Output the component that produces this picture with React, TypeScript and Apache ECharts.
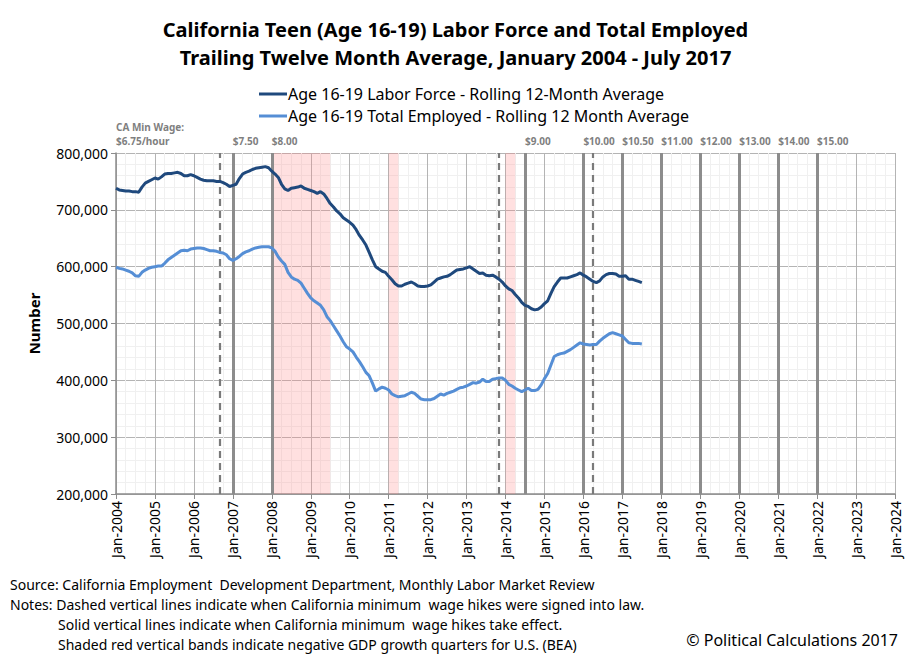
import React, { useEffect, useRef } from "react";
import * as echarts from "echarts";

// Time axis: months since Jan 2004 (index 0 = Jan 2004 ... 162 = Jul 2017)
const START_YEAR = 2004;
const X_MAX_MONTHS = 240; // Jan 2024
const Y_TICKS = [200000, 300000, 400000, 500000, 600000, 700000, 800000];

// Age 16-19 Labor Force, rolling 12-month average (thousands), Jan 2004 - Jul 2017
const laborForceK = [
  738, 735, 734, 733, 733, 732, 732, 731, 740, 747, 750, 753,
  756, 754, 758, 763, 764, 764, 765, 766, 764, 760, 760, 762,
  760, 757, 754, 752, 751, 751, 751, 750, 750, 748, 745, 741,
  743, 745, 755, 763, 766, 768, 771, 773, 774, 775, 776, 774,
  768, 763, 757, 745, 737, 734, 738, 739, 740, 742, 738, 736,
  734, 732, 729, 732, 728, 720, 711, 705, 698, 693, 686, 682,
  678, 673, 665, 655, 647, 638, 625, 612, 600, 596, 592, 590,
  583, 577, 570, 566, 566, 569, 571, 573, 570, 566, 565, 565,
  566, 568, 573, 578, 580, 582, 583, 586, 590, 594, 595, 596,
  598, 600, 596, 592, 588, 589, 585, 584, 585, 582, 578, 573,
  566, 561, 558, 551, 545, 537, 532, 530, 526, 524, 525, 529,
  535, 540, 553, 565, 573, 580, 580, 580, 582, 584, 586, 589,
  585, 582, 578, 574, 572, 575, 582, 586, 588, 588, 587, 583,
  583, 584, 578, 578, 576, 574, 572,
];

// Age 16-19 Total Employed, rolling 12-month average (thousands)
const totalEmployedK = [
  599, 597, 596, 594, 592, 589, 584, 583, 590, 594, 597, 599,
  600, 601, 601, 606, 612, 616, 620, 624, 628, 629, 628, 631,
  632, 633, 633, 632, 630, 628, 628, 627, 625, 624, 621, 614,
  611, 614, 618, 623, 626, 628, 631, 633, 634, 635, 635, 635,
  633, 627, 617, 610, 604, 590, 582, 578, 576, 571, 562, 553,
  545, 540, 536, 532, 524, 512, 505, 496, 487, 478, 468, 459,
  455, 450, 441, 433, 424, 414, 408, 395, 381, 385, 388, 386,
  383, 376, 373, 371, 372, 373, 376, 379, 377, 372, 367, 366,
  366, 366, 368, 372, 376, 374, 377, 379, 381, 384, 387, 388,
  390, 393, 396, 395, 397, 402, 398, 398, 402, 403, 404, 404,
  400, 393, 390, 386, 383, 380, 383, 386, 382, 382, 384, 392,
  403, 412, 427, 442, 445, 447, 448, 451, 454, 458, 462, 466,
  464, 463, 462, 463, 463, 469, 474, 478, 482, 484, 482, 480,
  478, 472, 466, 465, 465, 465, 464,
];

// Minimum wage events (month index) and labels
const signedIntoLaw = [32, 118, 147]; // dashed lines
const takesEffect = [36, 48, 126, 144, 156, 168, 180, 192, 204, 216]; // solid lines
const wageLabels = ["$7.50", "$8.00", "$9.00", "$10.00", "$10.50", "$11.00", "$12.00", "$13.00", "$14.00", "$15.00"];
const firstWageLabel = "CA Min Wage:\n$6.75/hour";

// Negative GDP growth quarters (month index ranges)
const recessionBands = [
  [48, 66],
  [84, 87],
  [120, 123],
];

const LF_NAME = "Age 16-19 Labor Force - Rolling 12-Month Average";
const TE_NAME = "Age 16-19 Total Employed - Rolling 12 Month Average";

const FONT = "'Noto Sans', 'Open Sans', sans-serif";

export default function App() {
  const ref = useRef<HTMLDivElement>(null);

  useEffect(() => {
    document.body.style.margin = "0";
    if (!ref.current) return;
    const chart = echarts.init(ref.current, null, { renderer: "svg" });

    const lfData = laborForceK.map((v, i) => [i, v * 1000]);
    const teData = totalEmployedK.map((v, i) => [i, v * 1000]);

    const wageLabelStyle = {
      show: true,
      position: "end",
      align: "left",
      verticalAlign: "bottom",
      distance: 5,
      color: "#7F7F7F",
      fontFamily: FONT,
      fontWeight: "bold",
      fontSize: 10,
      lineHeight: 14,
    };

    const markLineData: any[] = [];
    markLineData.push({
      xAxis: 0,
      lineStyle: { color: "rgba(0,0,0,0)", width: 0 },
      label: { ...wageLabelStyle, formatter: firstWageLabel },
    });
    signedIntoLaw.forEach((m) => {
      markLineData.push({
        xAxis: m,
        lineStyle: { color: "#7A7A7A", width: 2.2, type: [7, 5] },
        label: { show: false },
      });
    });
    takesEffect.forEach((m, i) => {
      markLineData.push({
        xAxis: m,
        lineStyle: { color: "#8C8C8C", width: 3, type: "solid" },
        label: { ...wageLabelStyle, formatter: wageLabels[i] },
      });
    });

    const option: any = {
      animation: false,
      backgroundColor: "#ffffff",
      textStyle: { fontFamily: FONT },
      title: {
        text: "California Teen (Age 16-19) Labor Force and Total Employed\nTrailing Twelve Month Average, January 2004 - July 2017",
        left: "center",
        top: 10,
        textStyle: {
          fontFamily: FONT,
          fontSize: 20,
          fontWeight: "bold",
          color: "#000",
          lineHeight: 28,
        },
      },
      legend: {
        data: [LF_NAME, TE_NAME],
        orient: "vertical",
        left: 254,
        top: 81,
        itemGap: 6,
        itemWidth: 28,
        itemHeight: 3,
        icon: "rect",
        textStyle: { fontFamily: FONT, fontSize: 16, color: "#000", padding: [0, 0, 0, -4] },
      },
      grid: { left: 116, right: 16, top: 153, bottom: 167, containLabel: false },
      xAxis: {
        type: "value",
        min: 0,
        max: X_MAX_MONTHS,
        interval: 12,
        axisLine: { show: true, lineStyle: { color: "#8C8C8C", width: 1.5 } },
        axisTick: { show: true, length: 5, lineStyle: { color: "#8C8C8C" } },
        axisLabel: {
          rotate: 90,
          fontFamily: FONT,
          fontSize: 14,
          color: "#000",
          margin: 7,
          formatter: (v: number) => "Jan-" + (START_YEAR + Math.round(v / 12)),
        },
        splitLine: { show: true, lineStyle: { color: "#B4B4B4", width: 1 } },
        minorTick: { show: false, splitNumber: 4 },
        minorSplitLine: { show: true, lineStyle: { color: "#F0F0F0", width: 1 } },
      },
      yAxis: {
        type: "value",
        min: Y_TICKS[0],
        max: Y_TICKS[Y_TICKS.length - 1],
        interval: Y_TICKS[1] - Y_TICKS[0],
        name: "Number",
        nameLocation: "middle",
        nameGap: 75,
        nameTextStyle: { fontFamily: FONT, fontSize: 15, fontWeight: "bold", color: "#000" },
        axisLine: { show: true, lineStyle: { color: "#8C8C8C", width: 1.5 } },
        axisTick: { show: true, length: 5, lineStyle: { color: "#8C8C8C" } },
        axisLabel: {
          fontFamily: FONT,
          fontSize: 14,
          color: "#000",
          margin: 8,
          formatter: (v: number) => v.toLocaleString("en-US"),
        },
        splitLine: { show: true, lineStyle: { color: "#B4B4B4", width: 1 } },
        minorTick: { show: false, splitNumber: 5 },
        minorSplitLine: { show: true, lineStyle: { color: "#F0F0F0", width: 1 } },
      },
      series: [
        {
          name: "markers",
          type: "line",
          data: [],
          z: 1,
          silent: true,
          markArea: {
            silent: true,
            itemStyle: { color: "rgba(255, 130, 130, 0.25)" },
            data: recessionBands.map((b) => [{ xAxis: b[0] }, { xAxis: b[1] }]),
          },
          markLine: {
            silent: true,
            symbol: ["none", "none"],
            data: markLineData,
          },
        },
        {
          name: LF_NAME,
          type: "line",
          data: lfData,
          showSymbol: false,
          symbol: "none",
          z: 5,
          lineStyle: { color: "#1F497D", width: 3 },
          itemStyle: { color: "#1F497D" },
        },
        {
          name: TE_NAME,
          type: "line",
          data: teData,
          showSymbol: false,
          symbol: "none",
          z: 5,
          lineStyle: { color: "#558ED5", width: 3 },
          itemStyle: { color: "#558ED5" },
        },
      ],
      graphic: [
        {
          type: "text",
          left: 10,
          top: 577,
          style: {
            text: "Source: California Employment  Development Department, Monthly Labor Market Review",
            font: `14px ${FONT}`,
            fill: "#000",
          },
        },
        {
          type: "text",
          left: 10,
          top: 597,
          style: {
            text: "Notes: Dashed vertical lines indicate when California minimum  wage hikes were signed into law.",
            font: `14px ${FONT}`,
            fill: "#000",
          },
        },
        {
          type: "text",
          left: 58,
          top: 617,
          style: {
            text: "Solid vertical lines indicate when California minimum  wage hikes take effect.",
            font: `14px ${FONT}`,
            fill: "#000",
          },
        },
        {
          type: "text",
          left: 58,
          top: 637,
          style: {
            text: "Shaded red vertical bands indicate negative GDP growth quarters for U.S. (BEA)",
            font: `14px ${FONT}`,
            fill: "#000",
          },
        },
        {
          type: "text",
          right: 13,
          top: 632,
          style: {
            text: "© Political Calculations 2017",
            font: `16px ${FONT}`,
            fill: "#000",
          },
        },
      ],
    };

    chart.setOption(option);
    return () => chart.dispose();
  }, []);

  return <div ref={ref} style={{ width: 911, height: 661 }} />;
}
